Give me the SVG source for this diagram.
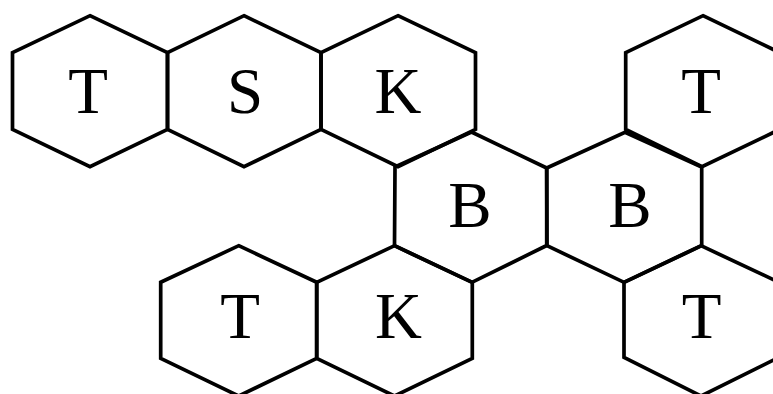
<svg xmlns="http://www.w3.org/2000/svg" width="773" height="394" viewBox="0 0 773 394">
<style>
.hex{fill:none;stroke:#000;stroke-width:3.7;stroke-linejoin:miter}
.lbl{font-family:"Liberation Serif","Times New Roman",serif;font-size:65px;fill:#000;text-anchor:middle}
</style>
<rect width="773" height="394" fill="#fff"/>
<g id="hex-t1"><polygon class="hex" points="90,15.7 167.5,52.7 167.5,129.3 90,166.7 12.5,129.3 12.5,52.7"/><text class="lbl" x="88" y="112.7">T</text></g>
<g id="hex-s"><polygon class="hex" points="244,15.7 321,52.7 321,129.3 244,166.7 167.5,129.3 167.5,52.7"/><text class="lbl" x="245" y="112.7">S</text></g>
<g id="hex-k1"><polygon class="hex" points="398,15.7 475.5,52.7 475.5,129.3 398,166.7 321,129.3 321,52.7"/><text class="lbl" x="398" y="112.7">K</text></g>
<g id="hex-t2"><polygon class="hex" points="703,15.7 780,52.7 780,129.3 702,166.7 625.7,129.3 625.7,52.7"/><text class="lbl" x="701" y="112.7">T</text></g>
<g id="hex-b1"><polygon class="hex" points="471.5,132 546.7,168 546.7,245.5 472,282.3 394.5,245.7 395,167"/><text class="lbl" x="470" y="227.3">B</text></g>
<g id="hex-b2"><polygon class="hex" points="625,132.3 701.7,167 701.7,245.7 624,282.3 547,245.7 546.7,168"/><text class="lbl" x="630" y="227.3">B</text></g>
<g id="hex-t3"><polygon class="hex" points="238.7,245.7 316.7,282.3 316.7,358.3 238.7,396 160.7,358.3 160.7,282.3"/><text class="lbl" x="240" y="338.3">T</text></g>
<g id="hex-k2"><polygon class="hex" points="394.5,245.7 472.3,282.3 472.3,358.3 394.5,396 316.7,358.3 316.7,282.3"/><text class="lbl" x="398.5" y="338.3">K</text></g>
<g id="hex-t4"><polygon class="hex" points="701,245.7 779,282.3 779,357.3 701,396 624,357.3 624,282.3"/><text class="lbl" x="701.5" y="338.3">T</text></g>
<g id="connectors"></g>
</svg>
